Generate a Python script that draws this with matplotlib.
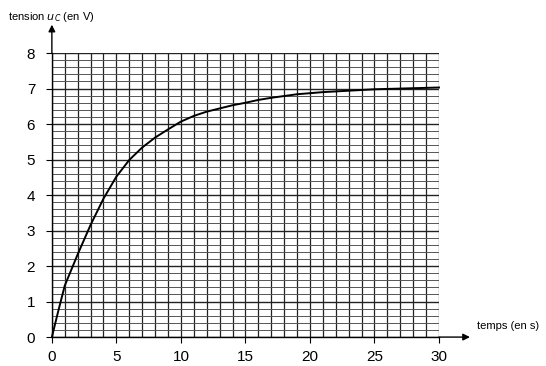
import numpy as np
import matplotlib.pyplot as plt
from matplotlib.ticker import MultipleLocator

plt.rcParams["font.family"] = ["Liberation Sans", "DejaVu Sans"]

# readings of the charging curve u_C(t)
temps = [0, 0.5, 1, 2, 3, 4, 5, 6, 7, 8, 9, 10, 11, 12, 13, 14, 15, 16, 17,
         19, 21, 23, 25, 27, 30]
tension = [0, 0.74, 1.45, 2.33, 3.16, 3.9, 4.52, 4.99, 5.34, 5.62, 5.85, 6.07,
           6.23, 6.35, 6.44, 6.53, 6.6, 6.68, 6.74, 6.84, 6.9, 6.94, 6.98, 7.0,
           7.03]
xticks = [0, 5, 10, 15, 20, 25, 30]
yticks = [0, 1, 2, 3, 4, 5, 6, 7, 8]

fig = plt.figure(figsize=(5.46, 3.66), dpi=100)
ax = fig.add_axes([0.095, 0.079, 0.709, 0.776])

ax.set_xlim(0, 30)
ax.set_ylim(0, 8)
ax.set_xticks(xticks)
ax.set_yticks(yticks)
ax.xaxis.set_minor_locator(MultipleLocator(1))
ax.yaxis.set_minor_locator(MultipleLocator(0.2))

ax.grid(which="major", axis="y", color="#222222", lw=1.0)
ax.grid(which="minor", axis="y", color="#555555", lw=0.7)
ax.grid(which="both", axis="x", color="#222222", lw=0.9)
ax.set_axisbelow(True)

for s in ["top", "right"]:
    ax.spines[s].set_visible(False)
ax.spines["left"].set_linewidth(1.0)
ax.spines["bottom"].set_linewidth(1.0)

ax.tick_params(which="major", direction="out", length=4, width=0.8,
               labelsize=11)
ax.tick_params(axis="y", which="major", pad=8)
ax.tick_params(axis="x", which="major", pad=5)
ax.tick_params(which="minor", length=0)

ax.plot(temps, tension, color="black", lw=1.4, clip_on=False)

# axis arrows
ax.annotate("", xy=(0, 8.8), xytext=(0, 8), annotation_clip=False,
            arrowprops=dict(arrowstyle="-|>", color="black", lw=1.0,
                            mutation_scale=10, shrinkA=0, shrinkB=0))
ax.annotate("", xy=(32.4, 0), xytext=(30, 0), annotation_clip=False,
            arrowprops=dict(arrowstyle="-|>", color="black", lw=1.0,
                            mutation_scale=10, shrinkA=0, shrinkB=0))

fig.text(8 / 546, 1 - 17 / 366, r"tension $u_C$ (en V)", fontsize=8,
         ha="left", va="center")
fig.text(477 / 546, 1 - 326 / 366, "temps (en s)", fontsize=8,
         ha="left", va="center")

fig.savefig("out.png", dpi=100)
